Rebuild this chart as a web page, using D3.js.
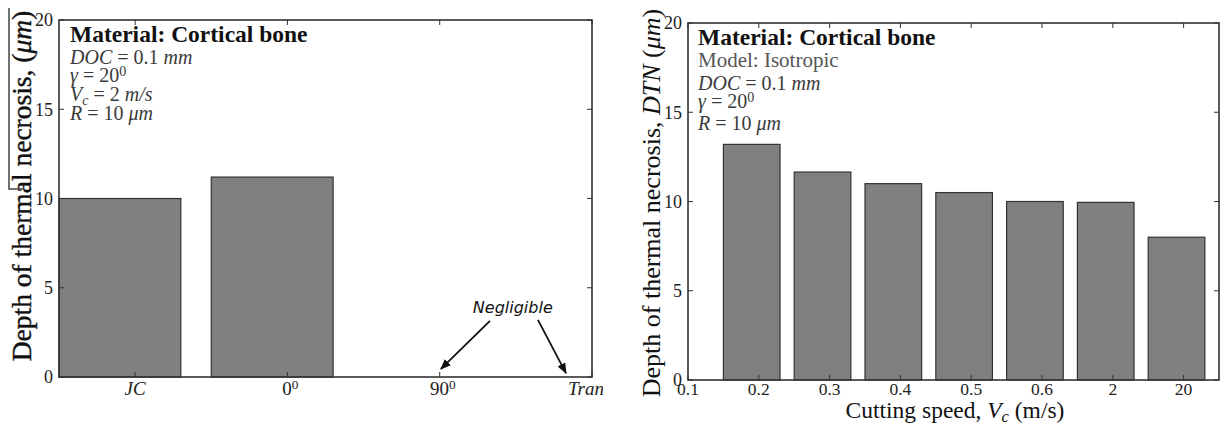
<!DOCTYPE html>
<html><head><meta charset="utf-8">
<script src="https://cdn.jsdelivr.net/npm/d3@7"></script>
<style>
body{margin:0;background:#fff;}
svg{display:block;}
text{font-family:"Liberation Serif","Times New Roman",serif;}
</style></head>
<body><svg id="c" width="1224" height="425"></svg>
<script>
// ---- data ----
const leftCategories = ["JC", "0", "90", "Trans"];
const leftValues = [10.0, 11.2, 0, 0];
const rightCategories = ["0.1", "0.2", "0.3", "0.4", "0.5", "0.6", "2", "20"];
const rightValues = [null, 13.2, 11.65, 11.0, 10.5, 10.0, 9.95, 8.0];
const yTicks = [0, 5, 10, 15, 20];

const svg = d3.select("#c");
const defs = svg.append("defs");
const barFill = "#808080", barEdge = "#333", axisCol = "#333";

function frame(g, x, y, xTicks) {
  const [x0, x1] = x.range(), [y0, y1] = y.range();
  const tl = 5;
  yTicks.forEach(t => {
    g.append("line").attr("x1", x0).attr("x2", x0 + tl).attr("y1", y(t)).attr("y2", y(t)).attr("stroke", axisCol);
    g.append("line").attr("x1", x1).attr("x2", x1 - tl).attr("y1", y(t)).attr("y2", y(t)).attr("stroke", axisCol);
  });
  xTicks.forEach(t => {
    g.append("line").attr("x1", x(t)).attr("x2", x(t)).attr("y1", y0).attr("y2", y0 - tl).attr("stroke", axisCol);
    g.append("line").attr("x1", x(t)).attr("x2", x(t)).attr("y1", y1).attr("y2", y1 + tl).attr("stroke", axisCol);
  });
  g.append("rect").attr("x", x0).attr("y", y1).attr("width", x1 - x0).attr("height", y0 - y1)
    .attr("fill", "none").attr("stroke", axisCol).attr("stroke-width", 1.6);
}

function yTickLabels(g, x, y) {
  const x0 = x.range()[0];
  g.selectAll(".yl").data(yTicks).join("text")
    .attr("x", x0 - 6).attr("y", d => y(d)).attr("dy", "0.35em")
    .attr("text-anchor", "end").attr("font-size", 18).attr("fill", "#222").text(d => d);
}

function bars(g, x, y, vals) {
  g.selectAll(".bar").data(vals.map((v, i) => ({v, i})).filter(d => d.v)).join("rect")
    .attr("x", d => x(d.i - 0.5)).attr("width", d => x(d.i + 0.3) - x(d.i - 0.5))
    .attr("y", d => y(d.v)).attr("height", d => y(0) - y(d.v))
    .attr("fill", barFill).attr("stroke", barEdge).attr("stroke-width", 1.2);
}

function rich(t, parts) {
  parts.forEach(p => {
    const s = t.append("tspan").text(p.t);
    if (p.i) s.attr("font-style", "italic");
    if (p.b) s.attr("font-weight", "bold");
    if (p.sup) { s.attr("dy", "-0.45em").attr("font-size", "0.7em"); }
    if (p.sub) { s.attr("dy", "0.25em").attr("font-size", "0.7em"); }
    if (p.after) s.attr("dy", p.after);
  });
  return t;
}

function mathLines(g, x0, lines) {
  lines.forEach(l => {
    const t = g.append("text").attr("x", x0).attr("y", l.y).attr("font-size", l.size || 20).attr("fill", l.fill || "#3a3a3a");
    rich(t, l.parts);
  });
}

// ---------- LEFT CHART ----------
const gl = svg.append("g");
const xL = d3.scaleLinear().domain([-0.5, 3]).range([59, 592]);
const yL = d3.scaleLinear().domain([0, 20]).range([377, 20]);
defs.append("clipPath").attr("id", "clipL").append("rect")
  .attr("x", 0).attr("y", 0).attr("width", 603).attr("height", 425);
const glc = gl.append("g").attr("clip-path", "url(#clipL)");
bars(glc, xL, yL, leftValues);
frame(glc, xL, yL, d3.range(leftCategories.length));
yTickLabels(glc, xL, yL);
const leftLabelParts = [[{t:"JC", i:1}], [{t:"0"},{t:"0", sup:1}], [{t:"90"},{t:"0", sup:1}], [{t:"Trans", i:1}]];
leftCategories.forEach((c, i) => {
  const t = glc.append("text").attr("x", xL(i)).attr("y", 395).attr("text-anchor", i === 3 ? "start" : "middle")
    .attr("dx", i === 3 ? -24 : (i === 0 ? 0 : 3)).attr("font-size", 19).attr("fill", "#222");
  rich(t, leftLabelParts[i]);
});
glc.append("text").attr("transform", "translate(31,186) rotate(-90)").attr("text-anchor", "middle")
  .attr("font-size", 27.5).attr("fill", "#111").attr("stroke", "#111").attr("stroke-width", 0.4)
  .html('Depth of thermal necrosis, (<tspan font-style="italic">μm</tspan>)');
gl.append("path").attr("d", "M9,8V189H24").attr("fill", "none").attr("stroke", "#444").attr("stroke-width", 1.5);
mathLines(glc, 70, [
  {y: 42, size: 23.5, fill: "#111", parts: [{t: "Material: Cortical bone", b: 1}]},
  {y: 64, parts: [{t:"DOC", i:1}, {t:" = 0.1 "}, {t:"mm", i:1}]},
  {y: 82, parts: [{t:"γ", i:1}, {t:" = 20"}, {t:"0", sup:1}]},
  {y: 101, parts: [{t:"V", i:1}, {t:"c", i:1, sub:1}, {t:" = 2 ", after:"-0.175em"}, {t:"m/s", i:1}]},
  {y: 120, parts: [{t:"R", i:1}, {t:" = 10 "}, {t:"μm", i:1}]}
]);
// annotation
const annText = {x: 2.48, y: 3.92}, arrows = [
  {x1: 2.33, y1: 3.14, x2: 2.008, y2: 0.45},
  {x1: 2.645, y1: 3.2, x2: 2.829, y2: 0.22}
];
defs.append("marker").attr("id", "ah").attr("viewBox", "0 0 10 10").attr("refX", 9).attr("refY", 5)
  .attr("markerWidth", 6).attr("markerHeight", 6).attr("orient", "auto")
  .append("path").attr("d", "M0,1L10,5L0,9z").attr("fill", "#111");
glc.append("text").attr("x", xL(annText.x)).attr("y", yL(annText.y)).attr("dy", "0.35em").attr("text-anchor", "middle")
  .style("font-family", "'DejaVu Sans',sans-serif").attr("font-style", "italic").attr("font-size", 16).attr("fill", "#111").text("Negligible");
arrows.forEach(a => glc.append("line").attr("x1", xL(a.x1)).attr("y1", yL(a.y1)).attr("x2", xL(a.x2)).attr("y2", yL(a.y2))
  .attr("stroke", "#111").attr("stroke-width", 1.8).attr("marker-end", "url(#ah)"));

// ---------- RIGHT CHART ----------
const gr = svg.append("g");
const xR = d3.scaleLinear().domain([0, 7.5]).range([688, 1219]);
const yR = d3.scaleLinear().domain([0, 20]).range([380, 23]);
bars(gr, xR, yR, rightValues);
frame(gr, xR, yR, d3.range(rightCategories.length));
yTickLabels(gr, xR, yR);
gr.selectAll(".xl").data(rightCategories).join("text")
  .attr("x", (d, i) => xR(i)).attr("y", 395).attr("text-anchor", "middle")
  .attr("font-size", 17.5).attr("fill", "#222").text(d => d);
rich(gr.append("text").attr("x", 955).attr("y", 418).attr("text-anchor", "middle").attr("font-size", 23.5).attr("fill", "#111"),
  [{t:"Cutting speed, "}, {t:"V", i:1}, {t:"c", i:1, sub:1}, {t:" (m/s)", after:"-0.175em"}]);
gr.append("text").attr("transform", "translate(660,203) rotate(-90)").attr("text-anchor", "middle")
  .attr("font-size", 26).attr("fill", "#111")
  .html('Depth of thermal necrosis, <tspan font-style="italic">DTN</tspan> (<tspan font-style="italic">μm</tspan>)');
mathLines(gr, 698, [
  {y: 45, size: 23.5, fill: "#111", parts: [{t: "Material: Cortical bone", b: 1}]},
  {y: 67, size: 21, fill: "#555", parts: [{t: "Model: Isotropic"}]},
  {y: 90, parts: [{t:"DOC", i:1}, {t:" = 0.1 "}, {t:"mm", i:1}]},
  {y: 108, parts: [{t:"γ", i:1}, {t:" = 20"}, {t:"0", sup:1}]},
  {y: 130, parts: [{t:"R", i:1}, {t:" = 10 "}, {t:"μm", i:1}]}
]);
</script></body></html>
